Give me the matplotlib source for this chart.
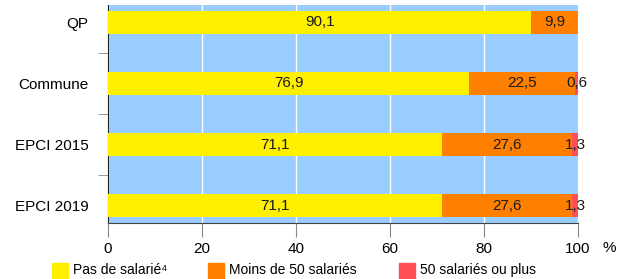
import matplotlib
matplotlib.use('Agg')
import matplotlib.pyplot as plt
from matplotlib.patches import Rectangle
import numpy as np

plt.rcParams['font.family'] = ['Liberation Sans', 'DejaVu Sans']
plt.rcParams['font.size'] = 11

# data
categories = ['QP', 'Commune', 'EPCI 2015', 'EPCI 2019']
pas_de_salarie = [90.1, 76.9, 71.1, 71.1]
moins_50 = [9.9, 22.5, 27.6, 27.6]
plus_50 = [0.0, 0.6, 1.3, 1.3]
series_names = ['Pas de salarié⁴', 'Moins de 50 salariés', '50 salariés ou plus']
colors = ['#FFF000', '#FF8000', '#FF4F55']

fig = plt.figure(figsize=(6.32, 2.79), dpi=100)
ax = fig.add_axes([108 / 632, 1 - 223 / 279, 470 / 632, 218 / 279])
ax.set_facecolor('#99CCFF')

y = np.arange(len(categories))
left = np.zeros(len(categories))
for vals, col in zip([pas_de_salarie, moins_50, plus_50], colors):
    vals = np.array(vals)
    ax.barh(y, vals, left=left, height=0.38, color=col, zorder=3)
    for yi, l, v in zip(y, left, vals):
        if v > 0:
            ax.text(l + v / 2, yi, f'{v:.1f}'.replace('.', ','), ha='center', va='center',
                    fontsize=11, color='#1a1a1a', zorder=4)
    left = left + vals

ax.set_xlim(0, 100)
ax.set_ylim(3.28, -0.28)
ax.set_xticks([0, 20, 40, 60, 80, 100])
ax.grid(axis='x', color='white', linewidth=1, zorder=1)
ax.set_yticks(y)
ax.set_yticklabels(categories)
ax.set_yticks([0.5, 1.5, 2.5], minor=True)
ax.tick_params(axis='y', which='major', length=0, pad=14)
ax.tick_params(axis='y', which='minor', length=7, color='#888888')
ax.tick_params(axis='x', length=10, color='#888888', pad=4)

for s in ['top', 'right']:
    ax.spines[s].set_visible(False)
ax.spines['left'].set_color('#222222')
ax.spines['bottom'].set_color('#444444')

fig.text(609 / 632, 1 - 248 / 279, '%', ha='center', va='center', fontsize=11)

# legend
leg_x = [52, 208, 399]
for x0, col, name in zip(leg_x, colors, series_names):
    fig.add_artist(Rectangle((x0 / 632, 0), 16 / 632, 16 / 279,
                             transform=fig.transFigure, color=col))
    fig.text((x0 + 21) / 632, 1 - 270 / 279, name, ha='left', va='center', fontsize=10)

fig.savefig('out.png', dpi=100)
